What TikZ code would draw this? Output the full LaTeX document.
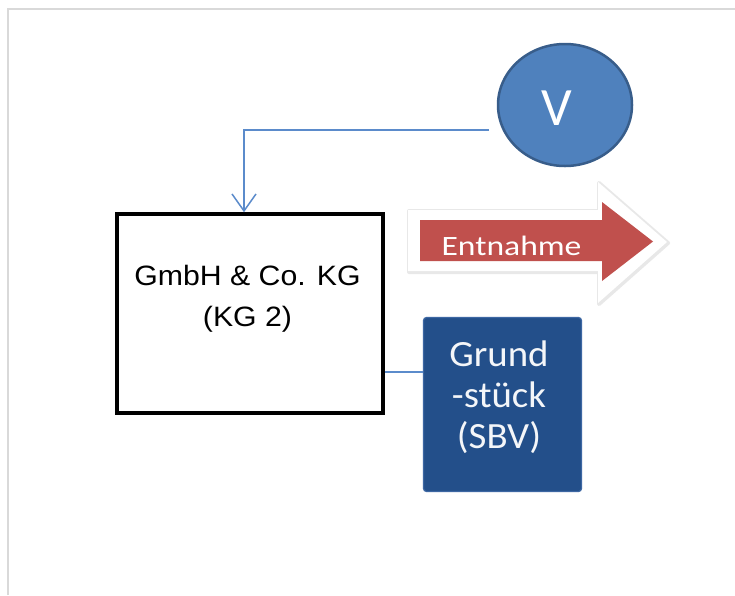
\documentclass[tikz,border=0pt]{standalone}
\usepackage{fontspec}
\setmainfont{Liberation Sans}
\newfontfamily\calib{Carlito}
\usetikzlibrary{arrows.meta,shapes.geometric,calc}
\definecolor{framegray}{HTML}{D9D9D9}
\definecolor{vfill}{HTML}{4F81BD}
\definecolor{vborder}{HTML}{385D8A}
\definecolor{connblue}{HTML}{5B8BCB}
\definecolor{gsfill}{HTML}{234F8A}
\definecolor{gsborder}{HTML}{3D67A3}
\definecolor{arrred}{HTML}{C0504D}
\tikzset{
  conn/.style={draw=connblue, line width=1.5pt},
  kgbox/.style={draw=black, fill=white, line width=3.5pt, rectangle, minimum width=266pt, minimum height=199pt, inner sep=0pt},
  gsbox/.style={draw=gsborder, fill=gsfill, line width=1.2pt, rectangle, rounded corners=3pt, minimum width=158pt, minimum height=174pt, inner sep=0pt},
  vnode/.style={ellipse, draw=vborder, fill=vfill, line width=2.5pt, minimum width=134pt, minimum height=122pt, inner sep=0pt},
  lbl/.style={inner sep=0pt, align=center}
}
\begin{document}
\begin{tikzpicture}[x=1pt,y=-1pt]
\useasboundingbox (0,0) rectangle (735,595);
\fill[white] (0,0) rectangle (735,595);
\draw[framegray, line width=2pt] (8,595) -- (8,9) -- (735,9);

% V circle
\node[vnode] (v) at (565,105) {};
\node[lbl, text=white, font=\calib\fontsize{54}{60}\selectfont, anchor=base] (vlabel) at (557,125) {V};

% GmbH box
\node[kgbox] (kg) at (250,313.5) {};
\node[lbl, font=\fontsize{28}{41}\selectfont] (kgtext) at (247.5,299)
  {\scalebox{1.08}[1]{GmbH \& Co. KG}\\\scalebox{1.08}[1]{(KG 2)}};

% Grundstueck box
\node[gsbox] (gs) at (502.5,404.5) {};
\node[lbl, text=white!95!gsfill, font=\calib\fontsize{37}{41}\selectfont] (gstext) at (499,397)
  {\scalebox{1.05}[1]{Grund}\\\scalebox{1.05}[1]{-stück}\\\scalebox{1.05}[1]{(SBV)}};

% connectors
\coordinate (vin) at (489,130);
\draw[conn, -{Straight Barb[length=17pt,width=24pt,line width=1.5pt]}] (vin) -| ([xshift=-6pt]kg.north);
\draw[conn] (kg.east |- 0,372) -- (gs.west |- 0,372);

% Entnahme arrow
\path[draw=gray!40, line width=4pt, line join=round, opacity=0.45]
  (409,211) -- (599,211) -- (599,183) -- (668,243) -- (599,304) -- (599,272) -- (409,272) -- cycle;
\fill[white]
  (408,210) -- (598,210) -- (598,182) -- (667,242) -- (598,303) -- (598,271) -- (408,271) -- cycle;
\fill[arrred]
  (420,220) -- (602,220) -- (602,202) -- (653,241.5) -- (602,281) -- (602,261) -- (420,261) -- cycle;
\node[lbl, text=white, font=\calib\fontsize{28}{30}\selectfont, anchor=base] (entnahme) at (511.5,255.5)
  {\scalebox{1.2}[1]{Entnahme}};
\end{tikzpicture}
\end{document}
